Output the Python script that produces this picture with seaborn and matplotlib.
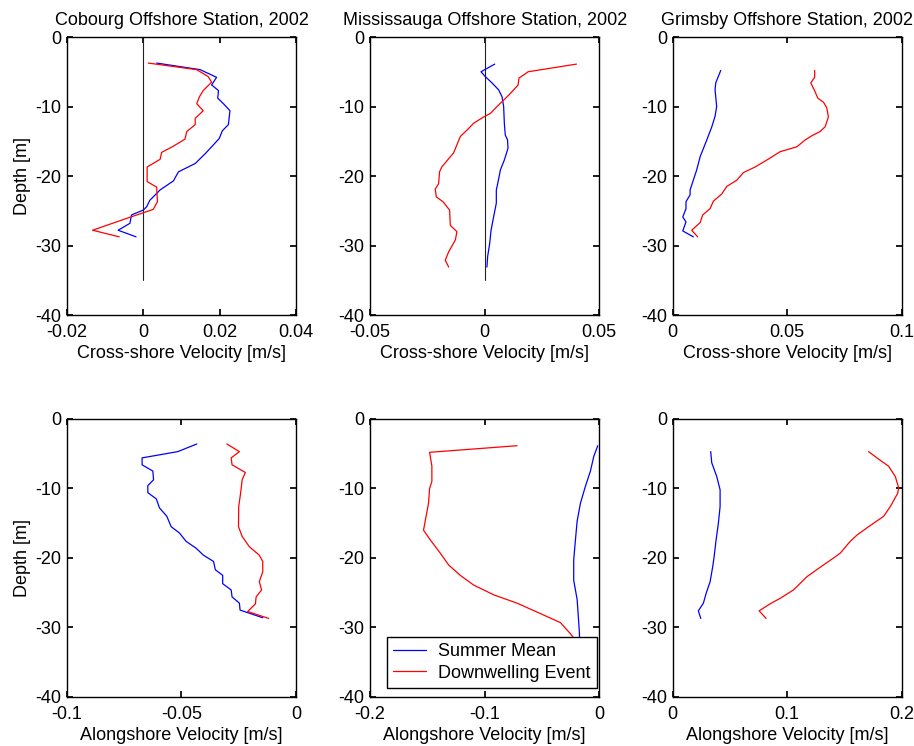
import numpy as np
import pandas as pd
import matplotlib
matplotlib.use("Agg")
import matplotlib.pyplot as plt
import seaborn as sns

# Cobourg, cross-shore
cob_cross_mean_v = [0.0035, 0.0149, 0.0192, 0.0179, 0.0197, 0.0195, 0.021, 0.0227, 0.0223, 0.0207,
                    0.0199, 0.0184, 0.0162, 0.0136, 0.0092, 0.0079, 0.0044, 0.0017, 0.0009, 0.0,
                    -0.0031, -0.0035, -0.0066, -0.0019]
cob_cross_mean_z = [-3.75, -4.7, -5.8, -6.9, -7.7, -8.8, -9.6, -10.6, -12.6, -13.5,
                    -14.6, -15.5, -16.8, -18.2, -19.4, -20.7, -22.0, -23.5, -24.4, -24.9,
                    -25.6, -26.8, -27.8, -28.75]
cob_cross_event_v = [0.0013, 0.014, 0.017, 0.0179, 0.0157, 0.0147, 0.014, 0.0157, 0.0136, 0.0136,
                     0.0114, 0.0109, 0.0079, 0.0048, 0.0044, 0.001, 0.001, 0.0035, 0.0037, 0.0026,
                     -0.0044, -0.0133, -0.0063]
cob_cross_event_z = [-3.75, -4.7, -5.7, -6.5, -7.7, -8.6, -9.6, -10.6, -11.7, -12.6,
                     -13.6, -14.7, -15.7, -16.6, -17.6, -18.7, -20.8, -21.6, -23.7, -24.8,
                     -26.1, -27.8, -28.75]

# Mississauga, cross-shore
mis_cross_mean_v = [0.0044, -0.0016, 0.0003, 0.0032, 0.0061, 0.0076, 0.0083, 0.0086, 0.009, 0.01,
                    0.0102, 0.0086, 0.0069, 0.0057, 0.0051, 0.0051, 0.0039, 0.0028, 0.0022, 0.0013,
                    0.001]
mis_cross_mean_z = [-3.9, -5.0, -5.7, -6.6, -7.6, -8.6, -10.0, -12.4, -14.1, -14.8,
                    -16.0, -17.7, -19.1, -21.1, -22.0, -23.9, -25.9, -27.8, -29.7, -31.6,
                    -33.1]
mis_cross_event_v = [0.0401, 0.019, 0.0173, 0.015, 0.0146, 0.0127, 0.0098, 0.0051, 0.0025, -0.0004,
                     -0.0048, -0.0074, -0.0106, -0.0121, -0.0136, -0.0157, -0.0187, -0.0197, -0.0201,
                     -0.0216, -0.0211, -0.0182, -0.0153, -0.015, -0.0121, -0.0128, -0.0157, -0.0172,
                     -0.0157]
mis_cross_event_z = [-3.9, -5.0, -5.4, -5.9, -6.9, -7.6, -8.6, -10.1, -11.0, -11.5,
                     -12.4, -13.3, -14.3, -15.5, -16.7, -17.5, -18.7, -19.4, -21.1,
                     -21.9, -23.0, -23.7, -24.9, -27.1, -28.0, -29.2, -30.9, -32.1,
                     -33.1]

# Grimsby, cross-shore
gri_cross_mean_v = [0.021, 0.0188, 0.0185, 0.0192, 0.0185, 0.0171, 0.0149, 0.012, 0.0105, 0.009,
                    0.0076, 0.0076, 0.0058, 0.0058, 0.0044, 0.0058, 0.0044, 0.009]
gri_cross_mean_z = [-4.8, -6.6, -7.6, -10.0, -11.4, -12.9, -14.8, -17.2, -19.1, -20.6,
                    -22.0, -22.7, -23.7, -24.7, -25.9, -26.6, -27.9, -28.75]
gri_cross_event_v = [0.062, 0.062, 0.0603, 0.0618, 0.0634, 0.0659, 0.0673, 0.068, 0.0666, 0.0644,
                     0.0608, 0.0579, 0.0542, 0.0469, 0.0411, 0.036, 0.0309, 0.028, 0.0236, 0.0214,
                     0.0178, 0.0163, 0.0131, 0.012, 0.0083, 0.0109]
gri_cross_event_z = [-4.8, -5.8, -6.6, -7.6, -8.8, -9.4, -10.2, -11.5, -12.9, -13.6,
                     -14.2, -14.8, -15.8, -16.5, -17.7, -18.7, -19.5, -20.6, -21.5, -22.6,
                     -23.6, -24.7, -25.6, -26.7, -27.8, -28.75]

# Cobourg, alongshore
cob_along_mean_v = [-0.0433, -0.0516, -0.0672, -0.0672, -0.0625, -0.0622, -0.0647, -0.0647, -0.061,
                    -0.0596, -0.0564, -0.0545, -0.0509, -0.048, -0.0436, -0.0404, -0.036, -0.0352,
                    -0.032, -0.032, -0.0283, -0.0279, -0.0247, -0.0244, -0.0145]
cob_along_mean_z = [-3.6, -4.7, -5.6, -6.6, -7.5, -8.75, -9.6, -10.6, -11.5,
                    -12.8, -14.0, -15.5, -16.4, -17.6, -18.6, -19.6, -20.5, -21.7,
                    -22.5, -23.7, -24.6, -25.6, -26.5, -27.5, -28.6]
cob_along_event_v = [-0.0302, -0.0247, -0.0283, -0.0279, -0.0221, -0.0235, -0.024, -0.0244, -0.025,
                     -0.0251, -0.0235, -0.0203, -0.016, -0.0145, -0.0145, -0.016, -0.015, -0.0174,
                     -0.0177, -0.0211, -0.0119]
cob_along_event_z = [-3.6, -4.7, -5.6, -6.6, -7.7, -8.75, -10.2, -11.2, -12.6,
                     -15.5, -16.9, -18.4, -19.6, -20.5, -22.0, -23.4, -24.6, -25.6,
                     -26.6, -27.7, -28.7]

# Mississauga, alongshore
mis_along_mean_v = [-0.0012, -0.0047, -0.0076, -0.012, -0.0163, -0.0192, -0.0207, -0.0222, -0.0222,
                    -0.0192, -0.0172, -0.0172]
mis_along_mean_z = [-3.85, -5.4, -7.5, -9.7, -12.1, -14.7, -17.4, -20.3, -23.2,
                    -26.0, -30.8, -32.0]
mis_along_event_v = [-0.0717, -0.1481, -0.1461, -0.1461, -0.1481, -0.149, -0.1534, -0.1475, -0.1388,
                     -0.1315, -0.1213, -0.1096, -0.0921, -0.0717, -0.0513, -0.0338, -0.0251, -0.02]
mis_along_event_z = [-3.85, -4.8, -6.8, -9.0, -10.0, -12.1, -16.0, -17.4, -19.3,
                     -21.0, -22.5, -23.9, -25.3, -26.5, -28.0, -29.3, -30.9, -32.0]

# Grimsby, alongshore
gri_along_mean_v = [0.0332, 0.0341, 0.0385, 0.0414, 0.0414, 0.0399, 0.0379, 0.0362, 0.035, 0.0327,
                    0.0292, 0.0268, 0.0224, 0.0245]
gri_along_mean_z = [-4.7, -6.3, -8.3, -10.2, -12.6, -15.0, -17.4, -19.8, -21.2, -23.4,
                    -25.1, -26.5, -27.6, -28.7]
gri_along_event_v = [0.1711, 0.1784, 0.1886, 0.1945, 0.1974, 0.1965, 0.1901, 0.1843, 0.1711, 0.161,
                     0.1551, 0.1464, 0.1362, 0.1274, 0.1172, 0.1055, 0.0939, 0.0851, 0.0755, 0.0816]
gri_along_event_z = [-4.7, -5.6, -6.8, -8.3, -9.95, -10.7, -12.6, -14.0, -15.5, -16.7,
                     -17.6, -19.3, -20.5, -21.5, -22.7, -24.6, -25.8, -26.6, -27.6, -28.7]

titles = ["Cobourg Offshore Station, 2002", "Mississauga Offshore Station, 2002",
          "Grimsby Offshore Station, 2002"]
cross_xlims = [(-0.02, 0.04), (-0.05, 0.05), (0, 0.1)]
cross_xticks = [[-0.02, 0, 0.02, 0.04], [-0.05, 0, 0.05], [0, 0.05, 0.1]]
cross_xticklabels = [["-0.02", "0", "0.02", "0.04"], ["-0.05", "0", "0.05"], ["0", "0.05", "0.1"]]
along_xlims = [(-0.1, 0), (-0.2, 0), (0, 0.2)]
along_xticks = [[-0.1, -0.05, 0], [-0.2, -0.1, 0], [0, 0.1, 0.2]]
along_xticklabels = [["-0.1", "-0.05", "0"], ["-0.2", "-0.1", "0"], ["0", "0.1", "0.2"]]
depth_ticks = [0, -10, -20, -30, -40]
zero_line_depth = [0, -35]
legend_labels = ["Summer Mean", "Downwelling Event"]

cross = [
    (cob_cross_mean_v, cob_cross_mean_z, cob_cross_event_v, cob_cross_event_z),
    (mis_cross_mean_v, mis_cross_mean_z, mis_cross_event_v, mis_cross_event_z),
    (gri_cross_mean_v, gri_cross_mean_z, gri_cross_event_v, gri_cross_event_z),
]
along = [
    (cob_along_mean_v, cob_along_mean_z, cob_along_event_v, cob_along_event_z),
    (mis_along_mean_v, mis_along_mean_z, mis_along_event_v, mis_along_event_z),
    (gri_along_mean_v, gri_along_mean_z, gri_along_event_v, gri_along_event_z),
]

sns.set_theme(style="ticks")
plt.rcParams["font.family"] = ["Liberation Sans", "DejaVu Sans"]
plt.rcParams.update({
    "font.size": 13,
    "axes.linewidth": 1.0,
    "axes.edgecolor": "black",
    "xtick.direction": "in",
    "ytick.direction": "in",
    "xtick.top": True,
    "ytick.right": True,
    "xtick.major.size": 4,
    "ytick.major.size": 4,
    "xtick.color": "black",
    "ytick.color": "black",
    "text.color": "black",
    "axes.labelcolor": "black",
})

fig = plt.figure(figsize=(9.14, 7.46), dpi=100)
lefts = [0.0733, 0.405, 0.736]
w, h = 0.2505, 0.3727
bottoms = [0.5777, 0.0657]


def draw(ax, prof, xlim, xticks, xticklabels, xlabel, show_ylabel):
    mv, mz, ev, ez = prof
    df_m = pd.DataFrame({"v": mv, "z": mz})
    df_e = pd.DataFrame({"v": ev, "z": ez})
    sns.lineplot(data=df_m, x="v", y="z", sort=False, estimator=None, color="#0000ff",
                 lw=0.9, ax=ax, label=legend_labels[0])
    sns.lineplot(data=df_e, x="v", y="z", sort=False, estimator=None, color="#ff0000",
                 lw=0.9, ax=ax, label=legend_labels[1])
    ax.set_xlim(*xlim)
    ax.set_ylim(-40, 0)
    ax.set_xticks(xticks)
    ax.set_xticklabels(xticklabels)
    ax.set_yticks(depth_ticks)
    ax.set_yticklabels([str(t) for t in depth_ticks])
    ax.tick_params(axis="x", labelsize=13, pad=6.5)
    ax.tick_params(axis="y", labelsize=13, pad=4)
    ax.set_xlabel(xlabel, fontsize=13, labelpad=3)
    ax.set_ylabel("Depth [m]" if show_ylabel else "", fontsize=13, labelpad=3)
    ax.get_legend().remove()


for i in range(3):
    ax = fig.add_axes([lefts[i], bottoms[0], w, h])
    draw(ax, cross[i], cross_xlims[i], cross_xticks[i], cross_xticklabels[i],
         "Cross-shore Velocity [m/s]", i == 0)
    if i < 2:
        ax.plot([0, 0], zero_line_depth, color="#222222", lw=0.8, zorder=1)
    ax.set_title(titles[i], fontsize=13, pad=9)

for i in range(3):
    ax = fig.add_axes([lefts[i], bottoms[1], w, h])
    draw(ax, along[i], along_xlims[i], along_xticks[i], along_xticklabels[i],
         "Alongshore Velocity [m/s]", i == 0)
    if i == 1:
        leg = ax.legend(handles=ax.get_lines()[:2], labels=legend_labels,
                        loc="lower right", bbox_to_anchor=(0.992, 0.032), borderaxespad=0,
                        fontsize=13, frameon=True, fancybox=False,
                        edgecolor="black", framealpha=1,
                        handlelength=1.8, handletextpad=0.7, borderpad=0.35, labelspacing=0.25)
        leg.get_frame().set_linewidth(1.0)

fig.savefig("out.png", dpi=100)
